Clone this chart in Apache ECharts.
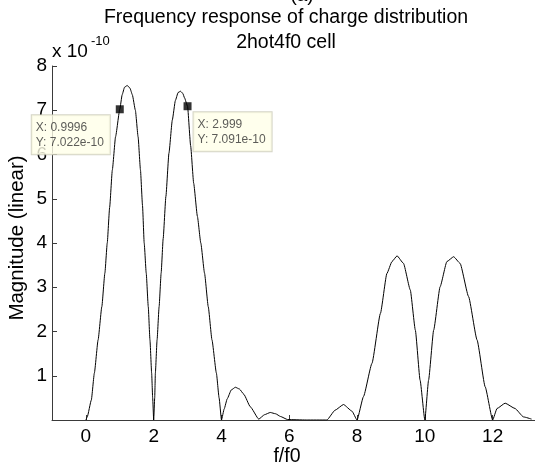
<!DOCTYPE html>
<html><head><meta charset="utf-8">
<script src="https://cdn.jsdelivr.net/npm/echarts@6/dist/echarts.min.js"></script>
<style>html,body{margin:0;padding:0;background:#fff}#c{width:535px;height:470px}</style>
</head><body><div id="c"></div>
<script>
// frequency (f/f0)
const freq = [0, 0.04, 0.16, 0.25, 0.36, 0.47, 0.56, 0.63, 0.70, 0.78, 0.875, 0.9996, 1.07, 1.14, 1.22, 1.30, 1.37, 1.46, 1.54, 1.61, 1.67, 1.72, 1.78, 1.84, 1.89, 1.94, 1.97, 2.0,
  2.03, 2.05, 2.10, 2.16, 2.22, 2.28, 2.36, 2.45, 2.55, 2.64, 2.72, 2.79, 2.86, 2.91, 2.999, 3.09, 3.18, 3.29, 3.39, 3.50, 3.61, 3.72, 3.85, 3.93, 4.0,
  4.08, 4.17, 4.29, 4.41, 4.53, 4.66, 4.85, 5.10, 5.27, 5.44, 5.60, 5.74, 5.95, 6.5, 7.11, 7.35, 7.6, 7.85, 8.0,
  8.19, 8.44, 8.69, 8.88, 9.03, 9.18, 9.37, 9.57, 9.72, 9.86, 10.0,
  10.11, 10.26, 10.45, 10.65, 10.85, 11.04, 11.29, 11.54, 11.78, 12.0,
  12.13, 12.37, 12.66, 12.91, 13.15];
// magnitude (x 1e-10)
const magnitude = [0, 0.07, 0.45, 1.06, 1.81, 2.56, 3.32, 4.0, 4.80, 5.65, 6.40, 7.022, 7.35, 7.52, 7.56, 7.50, 7.35, 7.0, 6.40, 5.65, 4.85, 4.0, 3.32, 2.56, 1.81, 1.06, 0.5, 0,
  0.5, 1.06, 1.81, 2.56, 3.32, 4.1, 5.05, 6.03, 6.78, 7.22, 7.40, 7.43, 7.38, 7.28, 7.091, 6.20, 5.35, 4.60, 4.0, 3.32, 2.56, 1.81, 1.06, 0.5, 0,
  0.25, 0.48, 0.68, 0.74, 0.70, 0.58, 0.30, 0.02, 0.12, 0.17, 0.14, 0.08, 0.01, 0, 0, 0.22, 0.35, 0.2, 0,
  0.53, 1.28, 2.41, 3.31, 3.58, 3.71, 3.54, 2.94, 2.03, 0.90, 0,
  0.90, 2.03, 3.01, 3.58, 3.69, 3.54, 2.79, 1.81, 0.75, 0,
  0.26, 0.38, 0.26, 0.07, 0.02];
const tipX = [0.9996, 2.999];
const tipY = [7.022, 7.091];
const tipLabels = ['X: 0.9996\nY: 7.022e-10', 'X: 2.999\nY: 7.091e-10'];
const xTicks = [0, 2, 4, 6, 8, 10, 12];
const yTicks = [1, 2, 3, 4, 5, 6, 7, 8];

const chart = echarts.init(document.getElementById('c'));
const FONT = 'Liberation Sans, Arial, sans-serif';
const axisColor = '#3a3a3a';
chart.setOption({
  animation: false,
  grid: {left: 52, right: 0, top: 66, bottom: 50},
  xAxis: {
    type: 'value', min: -1, max: 13.25,
    axisLine: {show: true, lineStyle: {color: axisColor, width: 1}},
    axisTick: {show: true, inside: true, length: 5, customValues: xTicks, lineStyle: {color: axisColor}},
    axisLabel: {customValues: xTicks, color: '#000', fontFamily: FONT, fontSize: 19, margin: 7},
    splitLine: {show: false}
  },
  yAxis: {
    type: 'value', min: 0, max: 8,
    axisLine: {show: true, onZero: false, lineStyle: {color: axisColor, width: 1}},
    axisTick: {show: true, inside: true, length: 5, customValues: yTicks, lineStyle: {color: axisColor}},
    axisLabel: {customValues: yTicks, color: '#000', fontFamily: FONT, fontSize: 19, margin: 5},
    splitLine: {show: false}
  },
  graphic: [
    {type: 'text', style: {text: '(a)', x: 302, y: 5, align: 'center', verticalAlign: 'bottom', font: '19px ' + FONT, fill: '#000'}},
    {type: 'text', style: {text: 'Frequency response of charge distribution', x: 286, y: 18, align: 'center', verticalAlign: 'middle', font: '19.5px ' + FONT, fill: '#000'}},
    {type: 'text', style: {text: '2hot4f0 cell', x: 286, y: 43, align: 'center', verticalAlign: 'middle', font: '19.5px ' + FONT, fill: '#000'}},
    {type: 'text', style: {text: 'x 10', x: 52, y: 52, align: 'left', verticalAlign: 'middle', font: '19px ' + FONT, fill: '#000'}},
    {type: 'text', style: {text: '-10', x: 91, y: 41, align: 'left', verticalAlign: 'middle', font: '13px ' + FONT, fill: '#000'}},
    {type: 'text', style: {text: 'f/f0', x: 287, y: 457, align: 'center', verticalAlign: 'middle', font: '19.5px ' + FONT, fill: '#000'}},
    {type: 'text', x: 17, y: 238, rotation: Math.PI / 2, style: {text: 'Magnitude (linear)', x: 0, y: 0, align: 'center', verticalAlign: 'middle', font: '20.5px ' + FONT, fill: '#000'}}
  ],
  series: [
    {
      type: 'line', showSymbol: false, smooth: 0.15, smoothMonotone: 'x',
      data: freq.map((f, i) => [f, magnitude[i]]),
      lineStyle: {color: '#000', width: 1}, z: 3
    },
    {
      type: 'scatter', symbol: 'rect', symbolSize: 8, z: 5,
      itemStyle: {color: '#000'},
      data: tipX.map((x, i) => ({
        value: [x, tipY[i]],
        label: {
          show: true, formatter: tipLabels[i],
          position: i === 0 ? [-84, 10] : [10, 10],
          backgroundColor: '#FFFFE8', borderColor: '#C9C9B6', borderWidth: 1,
          padding: [5, 6, 4, 4], lineHeight: 15,
          fontFamily: FONT, fontSize: 12, color: '#333', align: 'left', verticalAlign: 'top'
        }
      }))
    }
  ]
});
</script></body></html>
